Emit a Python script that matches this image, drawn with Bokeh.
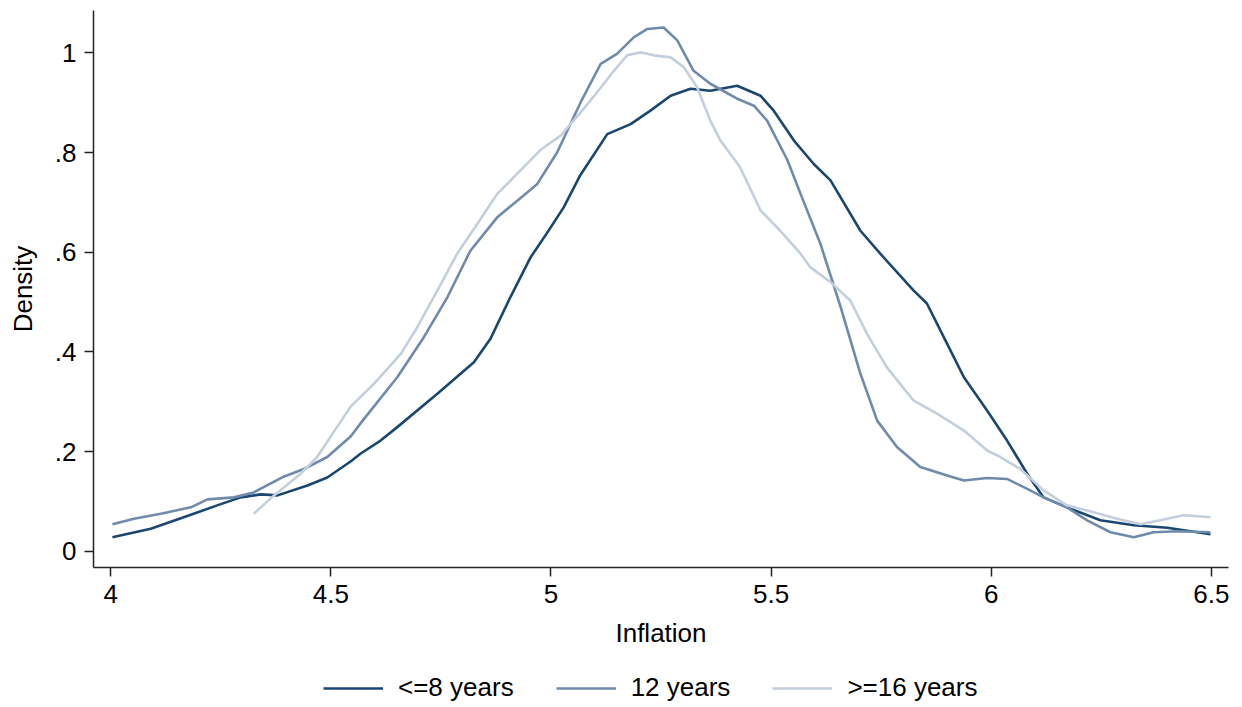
from bokeh.plotting import figure
from bokeh.layouts import column
from bokeh.models import Range1d, FixedTicker, CustomJSTickFormatter, Legend, LegendItem
from bokeh.embed import file_html
from bokeh.resources import INLINE

# ---- data ----
x_le8 = [4.004, 4.091, 4.166, 4.242, 4.295, 4.341, 4.379, 4.447, 4.492, 4.545, 4.568, 4.613,
         4.651, 4.742, 4.825, 4.863, 4.908, 4.954, 4.99, 5.029, 5.067, 5.128, 5.181, 5.226,
         5.272, 5.317, 5.362, 5.423, 5.476, 5.506, 5.552, 5.597, 5.635, 5.703, 5.748, 5.824,
         5.854, 5.9, 5.938, 5.991, 6.036, 6.082, 6.119, 6.172, 6.248, 6.324, 6.4, 6.498]
y_le8 = [0.028, 0.045, 0.068, 0.092, 0.108, 0.114, 0.112, 0.132, 0.148, 0.18, 0.196, 0.222,
         0.249, 0.316, 0.379, 0.427, 0.51, 0.59, 0.637, 0.69, 0.755, 0.837, 0.857, 0.884,
         0.914, 0.928, 0.924, 0.934, 0.914, 0.884, 0.824, 0.777, 0.744, 0.643, 0.597, 0.523,
         0.497, 0.416, 0.349, 0.282, 0.222, 0.155, 0.108, 0.088, 0.062, 0.052, 0.047, 0.034]

x_12 = [4.004, 4.053, 4.114, 4.182, 4.22, 4.28, 4.325, 4.394, 4.439, 4.492, 4.545, 4.575,
        4.651, 4.711, 4.765, 4.817, 4.878, 4.938, 4.969, 5.014, 5.067, 5.113, 5.15, 5.188,
        5.219, 5.256, 5.287, 5.324, 5.362, 5.423, 5.461, 5.491, 5.537, 5.567, 5.612, 5.658,
        5.703, 5.741, 5.786, 5.839, 5.9, 5.938, 5.991, 6.036, 6.082, 6.119, 6.172, 6.218,
        6.271, 6.324, 6.369, 6.422, 6.498]
y_12 = [0.054, 0.065, 0.075, 0.088, 0.104, 0.108, 0.118, 0.15, 0.165, 0.189, 0.23, 0.265,
        0.349, 0.429, 0.51, 0.603, 0.67, 0.714, 0.737, 0.8, 0.9, 0.978, 0.998, 1.031,
        1.048, 1.051, 1.025, 0.964, 0.938, 0.908, 0.894, 0.864, 0.785, 0.717, 0.617, 0.49,
        0.356, 0.262, 0.209, 0.169, 0.152, 0.142, 0.147, 0.145, 0.125, 0.108, 0.088, 0.062,
        0.038, 0.028, 0.038, 0.04, 0.038]

x_ge16 = [4.325, 4.371, 4.431, 4.469, 4.507, 4.545, 4.598, 4.659, 4.696, 4.742, 4.787, 4.833,
          4.878, 4.923, 4.976, 5.022, 5.067, 5.105, 5.143, 5.173, 5.204, 5.234, 5.272, 5.302,
          5.332, 5.362, 5.385, 5.43, 5.476, 5.521, 5.567, 5.589, 5.635, 5.68, 5.718, 5.763,
          5.824, 5.877, 5.938, 5.991, 6.021, 6.066, 6.119, 6.172, 6.233, 6.286, 6.339, 6.384,
          6.437, 6.498]
y_ge16 = [0.075, 0.112, 0.155, 0.189, 0.24, 0.29, 0.336, 0.396, 0.449, 0.523, 0.597, 0.657,
          0.717, 0.757, 0.805, 0.834, 0.88, 0.921, 0.964, 0.995, 1.001, 0.995, 0.991, 0.971,
          0.931, 0.864, 0.824, 0.77, 0.684, 0.643, 0.597, 0.57, 0.54, 0.503, 0.436, 0.369,
          0.302, 0.276, 0.242, 0.202, 0.189, 0.165, 0.122, 0.092, 0.078, 0.065, 0.054, 0.062,
          0.072, 0.068]

series_labels = ["<=8 years", "12 years", ">=16 years"]
series_colors = ["#1a476f", "#6f8bab", "#c3cfdc"]
series_x = [x_le8, x_12, x_ge16]
series_y = [y_le8, y_12, y_ge16]
x_ticks = [4, 4.5, 5, 5.5, 6, 6.5]
y_ticks = [0, 0.2, 0.4, 0.6, 0.8, 1]

FONT = "Liberation Sans"
FS = "26px"
LW = 2.6

p = figure(frame_width=1135, frame_height=557, output_backend="svg", toolbar_location=None,
           x_range=Range1d(3.961, 6.539), y_range=Range1d(-0.0327, 1.085),
           min_border_left=93, min_border_right=14, min_border_top=10, min_border_bottom=88)
p.grid.visible = False
p.outline_line_color = None
p.background_fill_color = "white"
p.border_fill_color = "white"

for xs, ys, c in zip(series_x, series_y, series_colors):
    p.line(xs, ys, line_color=c, line_width=LW, line_join="round")

for ax in (p.xaxis[0], p.yaxis[0]):
    ax.axis_line_color = "#222222"
    ax.axis_line_width = 1.5
    ax.major_tick_line_color = "#222222"
    ax.major_tick_line_width = 1.5
    ax.major_tick_out = 9
    ax.major_tick_in = 0
    ax.minor_tick_out = 0
    ax.minor_tick_in = 0
    ax.major_label_text_font = FONT
    ax.major_label_text_font_size = FS
    ax.major_label_text_color = "black"
    ax.axis_label_text_font = FONT
    ax.axis_label_text_font_size = FS
    ax.axis_label_text_font_style = "normal"
    ax.axis_label_text_color = "black"

p.xaxis.ticker = FixedTicker(ticks=x_ticks)
p.yaxis.ticker = FixedTicker(ticks=y_ticks)
p.xaxis.formatter = CustomJSTickFormatter(code="return String(Math.round(tick*10)/10);")
p.yaxis.formatter = CustomJSTickFormatter(code="""
const v = Math.round(tick*10)/10;
if (v == 0) return "0";
if (v >= 1) return String(v);
return String(v).replace(/^0/, "");
""")
p.xaxis.major_label_standoff = 8
p.yaxis.major_label_standoff = 8
p.xaxis.axis_label = "Inflation"
p.yaxis.axis_label = "Density"
p.xaxis.axis_label_standoff = 12
p.yaxis.axis_label_standoff = 14

# ---- legend strip below the plot (same series, outside this strip's ranges) ----
pl = figure(width=1242, height=52, output_backend="svg", toolbar_location=None,
            x_range=Range1d(0, 1), y_range=Range1d(0, 1),
            x_axis_location=None, y_axis_location=None,
            min_border=0)
pl.grid.visible = False
pl.outline_line_color = None
pl.border_fill_color = "white"
leg_renderers = [pl.line(xs, ys, line_color=c, line_width=LW)
                 for xs, ys, c in zip(series_x, series_y, series_colors)]

legend = Legend(items=[LegendItem(label=lab, renderers=[r])
                       for lab, r in zip(series_labels, leg_renderers)],
                orientation="horizontal", location=(230, 4))
legend.label_text_font = FONT
legend.label_text_font_size = FS
legend.label_text_color = "black"
legend.glyph_width = 60
legend.glyph_height = 26
legend.label_height = 26
legend.label_standoff = 15
legend.spacing = 42
legend.border_line_color = None
legend.background_fill_alpha = 0
legend.margin = 0
legend.padding = 4
pl.add_layout(legend, "center")

layout = column(p, pl, spacing=0)
open("out.html", "w").write(file_html(layout, INLINE))
